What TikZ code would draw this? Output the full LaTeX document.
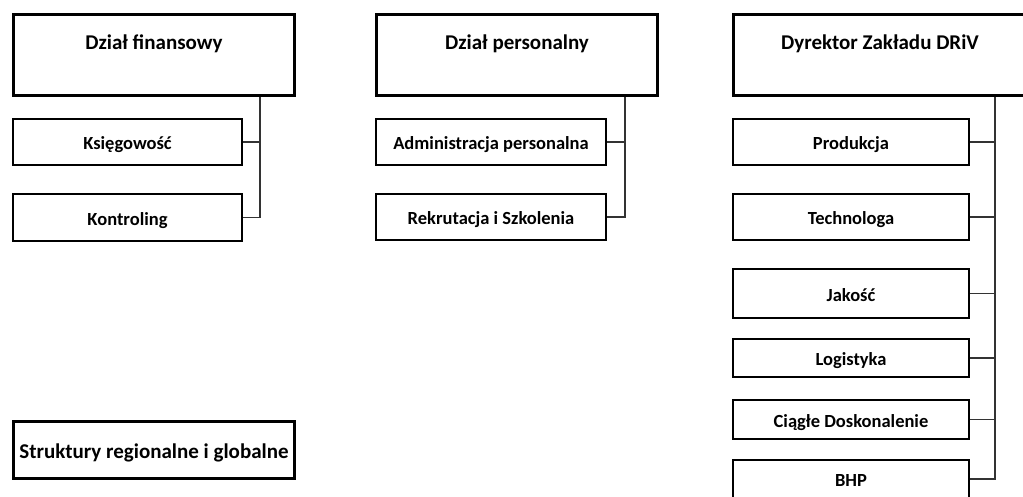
\documentclass[tikz,border=0pt]{standalone}
\usepackage{fontspec}
\setmainfont{Carlito}
\usepackage{tikz}
\usetikzlibrary{positioning}
\tikzstyle{DeptNode}=[rectangle, draw=black, line width=2.6pt, fill=white, minimum width=281.4pt, inner ysep=0pt, text height=34.7pt, text depth=46.7pt, font=\fontsize{21}{25}\selectfont\bfseries]
\tikzstyle{UnitNode}=[rectangle, draw=black, line width=2.2pt, fill=white, inner ysep=0pt, text height=15pt, text depth=0pt, font=\fontsize{18.5}{22}\selectfont\bfseries]
\tikzstyle{BusLine}=[draw=black!80, line width=1.2pt]

\begin{document}
\begin{tikzpicture}[x=1pt, y=1pt]
    \useasboundingbox (0,0) rectangle (1023,-496);
    \clip (0,0) rectangle (1023,-496);

    \node (fin) [DeptNode] at (154,-55) {Dział finansowy};
    \node (per) [DeptNode, right=79pt of fin] {Dział personalny};
    \node (dyr) [DeptNode, minimum width=293.4pt, right=73pt of per] {Dyrektor Zakładu DRiV};

    \node (ksie) [UnitNode, minimum width=228.8pt, minimum height=45.8pt, below right=21pt and 0pt of fin.south west] {Księgowość};
    \node (kont) [UnitNode, minimum width=228.8pt, minimum height=46.8pt, below right=27pt and 0pt of ksie.south west] {Kontroling};

    \node (adm) [UnitNode, minimum width=229.8pt, minimum height=45.8pt, below right=21pt and 0pt of per.south west] {Administracja personalna};
    \node (rek) [UnitNode, minimum width=229.8pt, minimum height=45.8pt, below right=27pt and 0pt of adm.south west] {Rekrutacja i Szkolenia};

    \node (prod) [UnitNode, minimum width=235.8pt, minimum height=45.8pt, below right=21pt and 0pt of dyr.south west] {Produkcja};
    \node (tech) [UnitNode, minimum width=235.8pt, minimum height=45.8pt, below right=27pt and 0pt of prod.south west] {Technologa};
    \node (jak) [UnitNode, minimum width=235.8pt, minimum height=48.8pt, below right=27pt and 0pt of tech.south west] {Jakość};
    \node (log) [UnitNode, minimum width=235.8pt, minimum height=37.8pt, below right=19pt and 0pt of jak.south west] {Logistyka};
    \node (cia) [UnitNode, minimum width=235.8pt, minimum height=38.8pt, below right=21pt and 0pt of log.south west] {Ciągłe Doskonalenie};
    \node (bhp) [UnitNode, minimum width=235.8pt, minimum height=37.8pt, below right=19pt and 0pt of cia.south west] {BHP};

    \node (str) [DeptNode, minimum height=57.4pt, text height=36.7pt, text depth=20.7pt, below right=323pt and 0pt of fin.south west] {Struktury regionalne i globalne};

    \coordinate (finbus) at (260,-97);
    \coordinate (perbus) at (625,-97);
    \coordinate (dyrbus) at (995,-97);

    \draw [BusLine] (finbus) |- (kont.east);
    \draw [BusLine] (ksie.east) -- (ksie.east -| finbus);
    \draw [BusLine] (perbus) |- (rek.east);
    \draw [BusLine] (adm.east) -- (adm.east -| perbus);
    \draw [BusLine] (dyrbus) |- (bhp.east);
    \draw [BusLine] (prod.east) -- (prod.east -| dyrbus);
    \draw [BusLine] (tech.east) -- (tech.east -| dyrbus);
    \draw [BusLine] (jak.east) -- (jak.east -| dyrbus);
    \draw [BusLine] (log.east) -- (log.east -| dyrbus);
    \draw [BusLine] (cia.east) -- (cia.east -| dyrbus);
  \end{tikzpicture}
\end{document}
